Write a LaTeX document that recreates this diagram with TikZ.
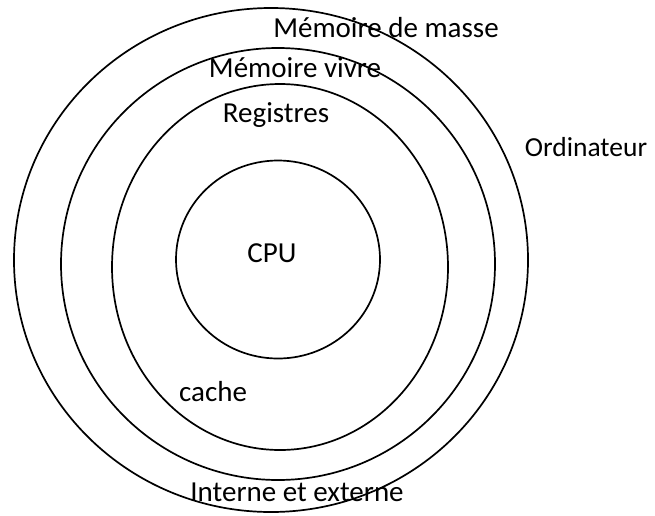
\documentclass[tikz,border=0pt]{standalone}
\usepackage{fontspec}
\setmainfont{Carlito}
\begin{document}
\begin{tikzpicture}[x=1pt,y=-1pt,
  ring/.style={line width=1.7pt, draw=black},
  lbl/.style={anchor=base, inner sep=0pt, font=\fontsize{29}{35}\selectfont}]
\useasboundingbox (0,0) rectangle (655,515);
\draw[ring] (271,260) ellipse [x radius=257pt, y radius=252pt];
\draw[ring] (278,264) ellipse [x radius=217pt, y radius=216pt];
\draw[ring] (280,267) ellipse [x radius=168pt, y radius=183pt];
\draw[ring] (278,259.5) ellipse [x radius=102pt, y radius=99pt];
\node[lbl] (masse) at (386,37) {Mémoire de masse};
\node[lbl] (vivre) at (295,77) {Mémoire vivre};
\node[lbl] (reg) at (276,122) {Registres};
\node[lbl, font=\fontsize{27.5}{33}\selectfont] (ord) at (586,156) {Ordinateur};
\node[lbl] (cpu) at (272,262) {CPU};
\node[lbl] (cache) at (213,401) {cache};
\node[lbl] (ie) at (297,501) {Interne et externe};
\end{tikzpicture}
\end{document}
